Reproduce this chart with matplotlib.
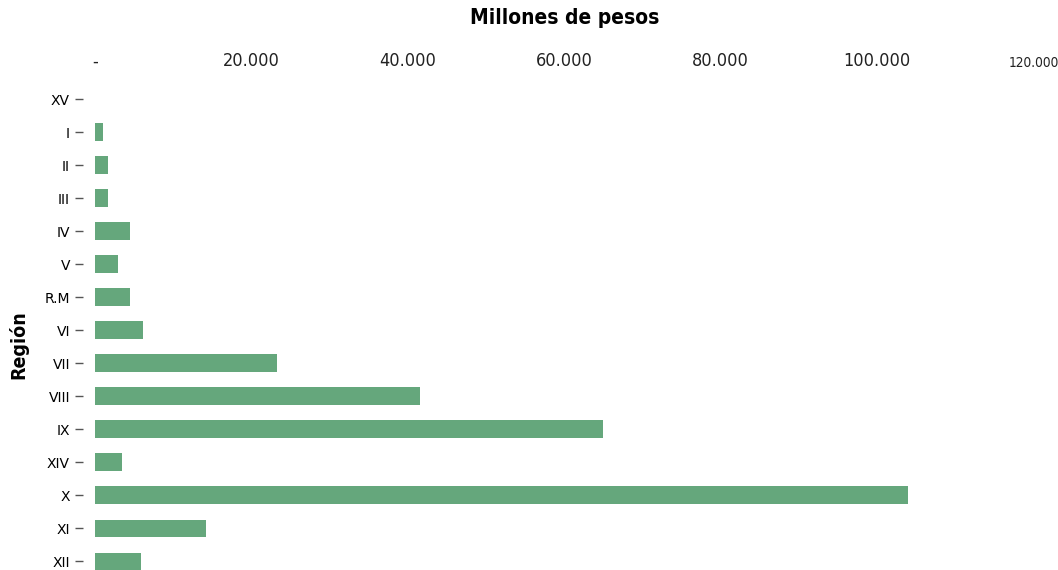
import matplotlib
matplotlib.use("Agg")
import matplotlib.pyplot as plt
from matplotlib import font_manager
from matplotlib.transforms import ScaledTranslation

# Gasto por región, millones de pesos
regiones = ["XV", "I", "II", "III", "IV", "V", "R.M", "VI", "VII",
            "VIII", "IX", "XIV", "X", "XI", "XII"]
montos = [0, 1000, 1600, 1600, 4500, 2900, 4500, 6100, 23300,
          41500, 64900, 3500, 103900, 14200, 5900]
ticks_x = [0, 20000, 40000, 60000, 80000, 100000, 120000]
etiquetas_x = ["-", "20.000", "40.000", "60.000", "80.000", "100.000", "120.000"]


def fuente_angosta(negrita=False):
    # busca una fuente condensada instalada; si no hay, usa Liberation Sans
    cand = []
    for f in font_manager.fontManager.ttflist:
        angosta = ("Condensed" in f.name or "Narrow" in f.name
                   or str(f.stretch) in ("condensed", "semi-condensed", "extra-condensed"))
        if not angosta or f.style != "normal":
            continue
        peso = f.weight if isinstance(f.weight, int) else 400
        cand.append((abs(peso - (700 if negrita else 400)), f.fname))
    if cand:
        cand.sort()
        return font_manager.FontProperties(fname=cand[0][1])
    return font_manager.FontProperties(family="Liberation Sans",
                                       weight="bold" if negrita else "normal")


f_normal = fuente_angosta()
f_negrita = fuente_angosta(True)

fig = plt.figure(figsize=(10.58, 5.70), dpi=100)
ax = fig.add_axes([95 / 1058, 0.0, (1033.5 - 95) / 1058, 1 - 80 / 570])

pos = list(range(len(regiones)))
ax.barh(pos, montos, height=0.52, color="#65a77c", linewidth=0)

ax.set_xlim(0, 120000)
ax.set_ylim(14.27, -0.576)

ax.xaxis.tick_top()
ax.set_xticks(ticks_x)
ax.set_xticklabels(etiquetas_x)
for t in ax.get_xticklabels():
    t.set_fontproperties(f_normal)
    t.set_fontsize(13)
    t.set_color("#222222")
# la última etiqueta va más chica y un poco corrida para que quepa
ultima = ax.xaxis.get_major_ticks()[-1].label2
ultima.set_fontsize(9.8)
ultima.set_transform(ultima.get_transform()
                     + ScaledTranslation(-3 / 100, 0, fig.dpi_scale_trans))
ax.tick_params(axis="x", length=0, pad=7)
ax.xaxis.set_label_position("top")
ax.set_xlabel("Millones de pesos", fontproperties=f_negrita, fontsize=15, labelpad=20)

ax.set_yticks(pos)
ax.set_yticklabels(regiones)
for t in ax.get_yticklabels():
    t.set_fontproperties(f_normal)
    t.set_fontsize(14)
    t.set_color("#111111")
ax.spines["left"].set_position(("outward", 9))
ax.tick_params(axis="y", length=6, width=1.0, color="#555555", pad=3)
for lado in ["left", "right", "top", "bottom"]:
    ax.spines[lado].set_visible(False)

fig.text(18 / 1058, 1 - 345 / 570, "Región", rotation=90, fontproperties=f_negrita,
         fontsize=14, ha="center", va="center")

fig.savefig("out.png", dpi=100)
